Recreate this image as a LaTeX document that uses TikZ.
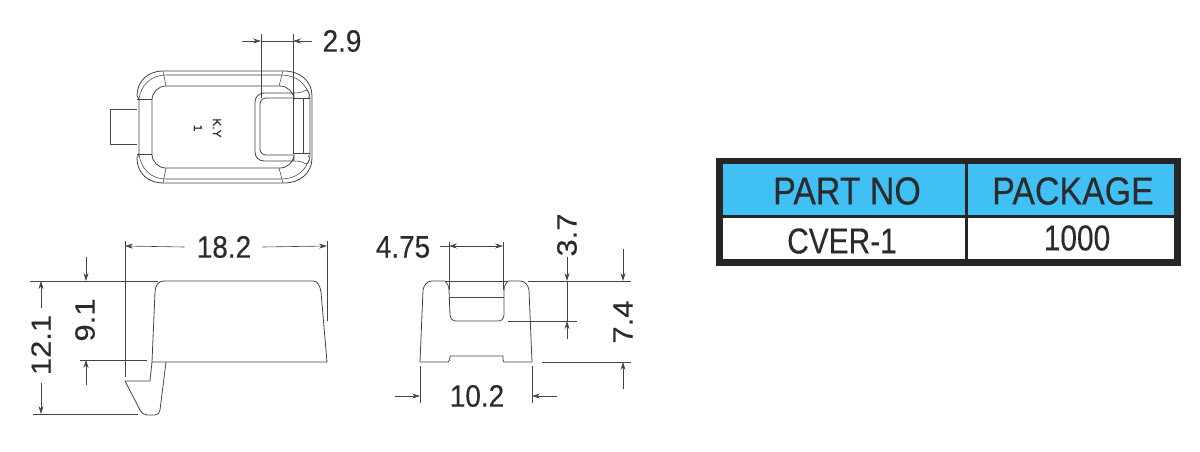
\documentclass[tikz,border=0pt]{standalone}
\usepackage{fontspec}
\setmainfont[FakeBold=0.3]{Liberation Sans}
\usepackage{xcolor}
\usetikzlibrary{arrows.meta}
\definecolor{inkgray}{HTML}{2B2B2B}
\definecolor{linegray}{HTML}{444444}
\definecolor{headblue}{HTML}{40C0F5}
\tikzset {
  % outlines of the part
  part/.style = {draw=linegray, line width=0.8pt, line join=round},
  thinpart/.style = {draw=linegray, line width=0.55pt},
  % dimension lines
  extline/.style = {draw=linegray, line width=0.6pt},
  dimline/.style = {draw=linegray, line width=0.6pt, -{Stealth[length=8pt, width=5pt]}},
  % dimension labels
  dimtext/.style = {inner sep=0pt, text=inkgray, font=\fontsize{31}{31}\selectfont, xscale=0.9, transform shape},
  % table
  cellhead/.style = {inner sep=0pt, text=inkgray, font=\fontsize{39}{39}\selectfont, xscale=0.87, transform shape},
  cellbody/.style = {inner sep=0pt, text=inkgray, font=\fontsize{36}{36}\selectfont, xscale=0.83, transform shape},
}
\begin{document}
\begin{tikzpicture}[x=1pt, y=-1pt]
  \useasboundingbox (0, 0) rectangle (1200, 451);

  % top view
  \draw[part] (137, 109) -- (110, 109) -- (110, 144) -- (137, 144);
  \draw[part] (137, 96) .. controls (137, 81) and (148, 71) .. (163, 71) -- (284, 71)
    .. controls (300, 71) and (312, 81) .. (312, 96) -- (312, 158)
    .. controls (312, 173) and (300, 183) .. (284, 183) -- (163, 183)
    .. controls (148, 183) and (137, 173) .. (137, 158) -- (139, 154) -- (139, 99) -- cycle;
  \draw[thinpart] (139, 99) .. controls (141, 85) and (151, 75) .. (166, 75) -- (281, 75)
    .. controls (296, 75) and (306, 83) .. (310, 97) -- (310, 157)
    .. controls (306, 171) and (296, 179) .. (281, 179) -- (166, 179)
    .. controls (151, 179) and (141, 169) .. (139, 154);
  \draw[part, rounded corners=14pt] (294, 93) -- (294, 86) -- (152, 86) -- (152, 168) -- (294, 168) -- (294, 161);
  \draw[thinpart] (137, 99) -- (152, 99) (137, 154) -- (152, 154);
  \draw[thinpart] (163, 71) -- (166, 86) (283, 71) -- (279, 86);
  \draw[thinpart] (166, 168) -- (163, 183) (279, 168) -- (283, 183);
  \draw[part, rounded corners=9pt] (294, 93) -- (255, 93) -- (255, 161) -- (294, 161);
  \draw[part, rounded corners=6pt] (293, 98) -- (260, 98) -- (260, 155) -- (293, 155);
  \draw[thinpart] (293, 98) -- (310, 98) (293, 153) -- (310, 153);
  \draw[thinpart] (303, 98) -- (303, 153);
  \draw[thinpart] (294, 93) .. controls (299, 93) and (303, 92) .. (306, 90);
  \draw[thinpart] (294, 161) .. controls (299, 161) and (303, 162) .. (306, 164);
  \draw[thinpart] (306, 90) .. controls (309, 91) and (311, 95) .. (308, 99);
  \draw[thinpart] (306, 164) .. controls (309, 163) and (311, 159) .. (308, 155);
  \node[inner sep=0pt, text=inkgray, font=\fontsize{12}{12}\selectfont, rotate=-90] (mark) at (217, 128) {K.Y};
  \node[inner sep=0pt, text=inkgray, font=\fontsize{12}{12}\selectfont, rotate=-90] (lot) at (198, 128) {1};

  \coordinate (w1) at (261, 41);
  \coordinate (w2) at (293, 41);
  \coordinate (w1out) at (242, 41);
  \coordinate (w2out) at (312, 41);
  \draw[extline] (261, 34) -- (261, 98);
  \draw[extline] (293, 34) -- (293, 153);
  \draw[extline] (w1) -- (w2);
  \draw[dimline] (w1out) -- (w1);
  \draw[dimline] (w2out) -- (w2);
  \node[dimtext] (d29) at (342, 41) {2.9};

  % side view
  \draw[part] (152, 362) -- (155, 292) .. controls (155.5, 285) and (158, 281) .. (164, 281)
    -- (313, 281) .. controls (318, 281) and (320, 286) .. (321, 292) -- (327, 362) -- cycle;
  \draw[part] (152, 362) -- (150, 381) -- (125, 381) -- (140, 410)
    .. controls (142, 413) and (144, 415) .. (147, 415) -- (155, 415)
    .. controls (158, 415) and (160, 413) .. (160, 410) -- (166, 362);

  \coordinate (a1) at (125, 246);
  \coordinate (a2) at (327, 246);
  \coordinate (b1) at (86, 281);
  \coordinate (b2) at (86, 360);
  \coordinate (c1) at (41, 281);
  \coordinate (c2) at (41, 414);
  \draw[extline] (125, 241) -- (125, 377);
  \draw[extline] (327, 241) -- (327, 321);
  \draw[extline] (30, 281) -- (158, 281);
  \draw[extline] (80, 360) -- (147, 360);
  \draw[extline] (33, 414) -- (138, 414);
  \node[dimtext] (d182) at (224, 247) {18.2};
  \node[dimtext, rotate=90] (d91) at (85, 320) {9.1};
  \node[dimtext, rotate=90] (d121) at (41, 345) {12.1};
  \draw[dimline] (d182.west) ++(-12, 0) -- (a1);
  \draw[dimline] (d182.east) ++(11, 0) -- (a2);
  \draw[dimline] (86, 257) -- (b1);
  \draw[dimline] (86, 385) -- (b2);
  \draw[dimline] (41, 308) -- (c1);
  \draw[dimline] (41, 383) -- (c2);

  % front view
  \draw[part] (420, 362) -- (423, 290) .. controls (424, 285) and (427, 281) .. (432, 281)
    -- (445, 281) .. controls (447, 283) and (449, 286) .. (449, 290) -- (450, 315)
    .. controls (451, 319) and (452, 321) .. (456, 321) -- (498, 321)
    .. controls (502, 321) and (503, 319) .. (504, 315) -- (504, 290)
    .. controls (504, 286) and (506, 283) .. (508, 281) -- (520, 281)
    .. controls (525, 281) and (528, 285) .. (529, 290) -- (532, 362)
    -- (504, 362) .. controls (503, 362) and (503, 360) .. (503, 356)
    -- (450, 356) .. controls (450, 360) and (449, 362) .. (448, 362) -- cycle;
  \draw[thinpart] (445, 281) -- (508, 281);
  \draw[thinpart] (449, 297) -- (504, 297);

  \coordinate (e1) at (449, 246);
  \coordinate (e2) at (503, 246);
  \coordinate (f1) at (420, 396);
  \coordinate (f2) at (532, 396);
  \coordinate (g1) at (567, 281);
  \coordinate (g2) at (567, 321);
  \coordinate (h1) at (623, 281);
  \coordinate (h2) at (623, 362);
  \draw[extline] (449, 242) -- (449, 290);
  \draw[extline] (503, 242) -- (503, 290);
  \draw[extline] (420, 366) -- (420, 403);
  \draw[extline] (532, 366) -- (532, 403);
  \draw[extline] (528, 281) -- (631, 281);
  \draw[extline] (508, 321) -- (577, 321);
  \draw[extline] (542, 362) -- (631, 362);
  \node[dimtext] (d475) at (403, 247) {4.75};
  \node[dimtext] (d102) at (477, 396) {10.2};
  \node[dimtext, rotate=90] (d37) at (567, 235) {3.7};
  \node[dimtext, rotate=90] (d74) at (623, 322) {7.4};
  \draw[extline] (440, 246) -- (449, 246);
  \draw[dimline] (476, 246) -- (e1);
  \draw[dimline] (476, 246) -- (e2);
  \draw[dimline] (395, 396) -- (f1);
  \draw[dimline] (557, 396) -- (f2);
  \draw[extline] (g1) -- (g2);
  \draw[dimline] (567, 257) -- (g1);
  \draw[dimline] (567, 339) -- (g2);
  \draw[dimline] (623, 249) -- (h1);
  \draw[dimline] (623, 389) -- (h2);

  % part table
  \fill[black!85] (716, 158) rectangle (1181, 266);
  \fill[headblue] (723, 164) rectangle (965, 215);
  \fill[headblue] (968, 164) rectangle (1174, 215);
  \fill[white] (723, 218) rectangle (965, 259);
  \fill[white] (968, 218) rectangle (1174, 259);
  \node[cellhead] (partno) at (847, 191) {PART NO};
  \node[cellhead] (package) at (1073, 191) {PACKAGE};
  \node[cellbody] (cver) at (842, 241) {CVER-1};
  \node[cellbody] (qty) at (1077, 238) {1000};
\end{tikzpicture}
\end{document}
